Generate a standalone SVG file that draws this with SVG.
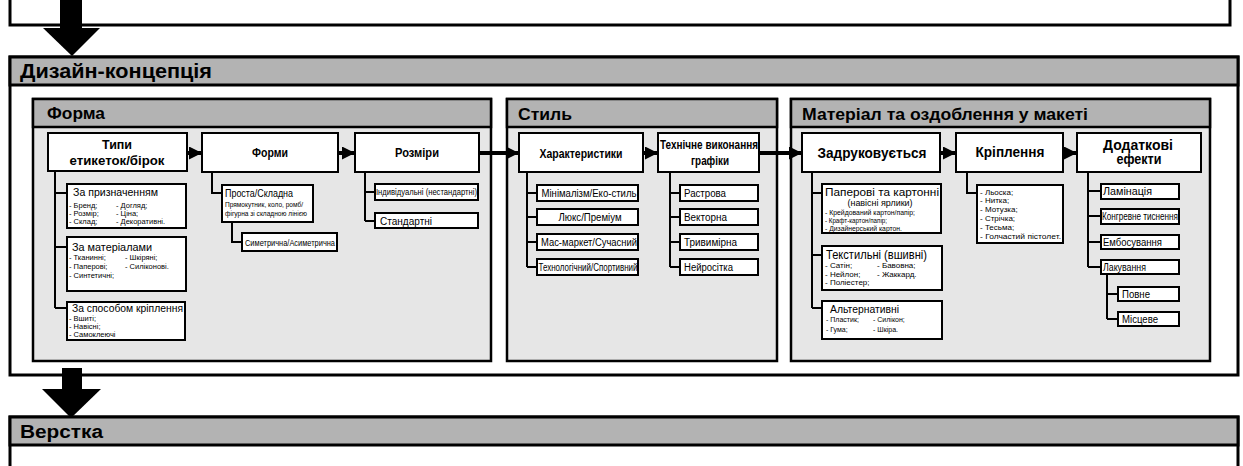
<svg xmlns="http://www.w3.org/2000/svg" width="1243" height="466" viewBox="0 0 1243 466">
<style>
.bg{fill:#fff}
.outer{fill:#fff;stroke:#000;stroke-width:3}
.ohdr{fill:#b3b3b3;stroke:#000;stroke-width:3}
.panel{fill:#e6e6e6;stroke:#000;stroke-width:2.5}
.phdr{fill:#b3b3b3;stroke:#000;stroke-width:2.5}
.node{fill:#fff;stroke:#000;stroke-width:2}
.ln{fill:none;stroke:#000;stroke-width:2}
.flow{fill:none;stroke:#000;stroke-width:4}
text{font-family:"Liberation Sans",Arial,sans-serif;fill:#000}
.t1{font-size:20px;font-weight:bold}
.t2{font-size:17px;font-weight:bold}
.nb{font-size:13px;font-weight:bold;text-anchor:middle}
.st{font-size:11px}
.li{font-size:7.5px}
.it{font-size:10px}
.c{text-anchor:middle}
</style>
<defs>
<marker id="ah" markerUnits="userSpaceOnUse" markerWidth="13" markerHeight="13" refX="13" refY="6.5" orient="auto">
<path d="M0,0 L13,6.5 L0,13 z" fill="#000"/>
</marker>
</defs>
<rect class="bg" x="0" y="0" width="1243" height="466"/>

<g id="prev-stage">
<path class="ln" style="stroke-width:3" d="M10,0 V25 H1230 V0"/>
</g>
<g id="big-arrow-1">
<rect x="60" y="0" width="22" height="29" fill="#000"/>
<polygon points="43,28 100,28 72,56" fill="#000"/>
</g>

<g id="design-concept">
<rect class="outer" x="10" y="57" width="1228" height="318"/>
<rect class="ohdr" x="10" y="57" width="1228" height="28"/>
<text class="t1" x="20" y="78" textLength="192" lengthAdjust="spacingAndGlyphs">Дизайн-концепція</text>
</g>

<g id="panel-forma">
<rect class="panel" x="33" y="99" width="458" height="262"/>
<rect class="phdr" x="33" y="99" width="458" height="28"/>
<text class="t2" x="47" y="119" textLength="58" lengthAdjust="spacingAndGlyphs">Форма</text>
</g>
<g id="panel-style">
<rect class="panel" x="507" y="99" width="270" height="262"/>
<rect class="phdr" x="507" y="99" width="270" height="28"/>
<text class="t2" x="518" y="120" textLength="54" lengthAdjust="spacingAndGlyphs">Стиль</text>
</g>
<g id="panel-material">
<rect class="panel" x="791" y="99" width="419" height="262"/>
<rect class="phdr" x="791" y="99" width="419" height="28"/>
<text class="t2" x="802" y="120" textLength="286" lengthAdjust="spacingAndGlyphs">Матеріал та оздоблення у макеті</text>
</g>

<g id="connectors">
<line class="flow" x1="187" y1="153" x2="202" y2="153" marker-end="url(#ah)"/>
<line class="flow" x1="338" y1="153" x2="355" y2="153" marker-end="url(#ah)"/>
<line class="flow" x1="479" y1="153" x2="519" y2="153" marker-end="url(#ah)"/>
<line class="flow" x1="643" y1="153" x2="658" y2="153" marker-end="url(#ah)"/>
<line class="flow" x1="759" y1="153" x2="802" y2="153" marker-end="url(#ah)"/>
<line class="flow" x1="940" y1="153" x2="956" y2="153" marker-end="url(#ah)"/>
<line class="flow" x1="1063" y1="153" x2="1077" y2="153" marker-end="url(#ah)"/>
<path class="ln" d="M55,171 V308 M55,193 H67 M55,247 H67 M55,308 H67"/>
<path class="ln" d="M212,172 V193 H222 M232,222 V242 H242"/>
<path class="ln" d="M365,172 V221 M365,192 H375 M365,221 H375"/>
<path class="ln" d="M527,172 V267 M527,193 H537 M527,217 H537 M527,242 H537 M527,267 H537"/>
<path class="ln" d="M670,172 V267 M670,193 H680 M670,217 H680 M670,242 H680 M670,267 H680"/>
<path class="ln" d="M812,172 V308 M812,193 H822 M812,255 H822 M812,308 H822"/>
<path class="ln" d="M967,172 V193 H977"/>
<path class="ln" d="M1088,172 V267 M1088,191 H1101 M1088,216 H1101 M1088,242 H1101 M1088,267 H1101"/>
<path class="ln" d="M1107,274 V319 M1107,294 H1118 M1107,319 H1118"/>
</g>

<g id="n-typy">
<rect class="node" x="48" y="133" width="139" height="38"/>
<text class="nb" x="117" y="149" textLength="30" lengthAdjust="spacingAndGlyphs">Типи</text>
<text class="nb" x="117" y="165" textLength="95" lengthAdjust="spacingAndGlyphs">етикеток/бірок</text>
</g>
<g id="n-pryznach">
<rect class="node" x="67" y="184" width="119" height="44"/>
<text class="st" x="73" y="196" textLength="85" lengthAdjust="spacingAndGlyphs">За призначенням</text>
<text class="li" x="69" y="208">- Бренд;</text>
<text class="li" x="69" y="216">- Розмір;</text>
<text class="li" x="69" y="224">- Склад;</text>
<text class="li" x="116" y="208">- Догляд;</text>
<text class="li" x="116" y="216">- Ціна;</text>
<text class="li" x="116" y="224">- Декоративні.</text>
</g>
<g id="n-material">
<rect class="node" x="67" y="237" width="119" height="54"/>
<text class="st" x="72" y="251" textLength="80" lengthAdjust="spacingAndGlyphs">За матеріалами</text>
<text class="li" x="69" y="260">- Тканинні;</text>
<text class="li" x="69" y="269">- Паперові;</text>
<text class="li" x="69" y="278">- Синтетичні;</text>
<text class="li" x="125" y="260">- Шкіряні;</text>
<text class="li" x="125" y="269">- Силіконові.</text>
</g>
<g id="n-sposib">
<rect class="node" x="67" y="302" width="118" height="38"/>
<text class="st" x="72" y="312" textLength="111" lengthAdjust="spacingAndGlyphs">За способом кріплення</text>
<text class="li" x="69" y="321">- Вшиті;</text>
<text class="li" x="69" y="329">- Навісні;</text>
<text class="li" x="69" y="337">- Самоклеючі</text>
</g>

<g id="n-formy">
<rect class="node" x="202" y="133" width="136" height="39"/>
<text class="nb" x="270" y="157" textLength="36" lengthAdjust="spacingAndGlyphs">Форми</text>
</g>
<g id="n-prosta">
<rect class="node" x="222" y="185" width="91" height="37"/>
<text x="225" y="197" font-size="10.5" textLength="68" lengthAdjust="spacingAndGlyphs">Проста/Складна</text>
<text x="225" y="207" font-size="7" textLength="78" lengthAdjust="spacingAndGlyphs">Прямокутник, коло, ромб/</text>
<text x="225" y="216" font-size="7" textLength="82" lengthAdjust="spacingAndGlyphs">фігурна зі складною лінією</text>
</g>
<g id="n-symetr">
<rect class="node" x="242" y="233" width="95" height="18"/>
<text x="245" y="246" font-size="9" textLength="90" lengthAdjust="spacingAndGlyphs">Симетрична/Асиметрична</text>
</g>

<g id="n-rozmiry">
<rect class="node" x="355" y="133" width="124" height="39"/>
<text class="nb" x="417" y="157" textLength="44" lengthAdjust="spacingAndGlyphs">Розміри</text>
</g>
<g id="n-indyv">
<rect class="node" x="375" y="184" width="103" height="16"/>
<text x="376" y="195" font-size="9" textLength="101" lengthAdjust="spacingAndGlyphs">Індивідуальні (нестандартні)</text>
</g>
<g id="n-standart">
<rect class="node" x="375" y="213" width="103" height="15"/>
<text x="380" y="225" font-size="10.5" textLength="52" lengthAdjust="spacingAndGlyphs">Стандартні</text>
</g>

<g id="n-kharakt">
<rect class="node" x="519" y="133" width="124" height="39"/>
<text class="nb" x="581" y="158" textLength="83" lengthAdjust="spacingAndGlyphs">Характеристики</text>
</g>
<g id="n-minim">
<rect class="node" x="537" y="185" width="101" height="16"/>
<text class="it c" x="589" y="197" textLength="95" lengthAdjust="spacingAndGlyphs">Мінімалізм/Еко-стиль</text>
</g>
<g id="n-lux">
<rect class="node" x="537" y="209" width="101" height="16"/>
<text class="it c" x="590" y="221" textLength="63" lengthAdjust="spacingAndGlyphs">Люкс/Преміум</text>
</g>
<g id="n-mass">
<rect class="node" x="537" y="234" width="101" height="16"/>
<text class="it c" x="589" y="246" textLength="96" lengthAdjust="spacingAndGlyphs">Мас-маркет/Сучасний</text>
</g>
<g id="n-tech-sport">
<rect class="node" x="537" y="259" width="101" height="16"/>
<text class="it c" x="588" y="271" textLength="99" lengthAdjust="spacingAndGlyphs">Технологічний/Спортивний</text>
</g>

<g id="n-tekhnichne">
<rect class="node" x="658" y="133" width="101" height="39"/>
<text class="nb" x="709" y="149" textLength="98" lengthAdjust="spacingAndGlyphs">Технічне виконання</text>
<text class="nb" x="710" y="165" textLength="38" lengthAdjust="spacingAndGlyphs">графіки</text>
</g>
<g id="n-rastr">
<rect class="node" x="680" y="185" width="78" height="16"/>
<text class="it" x="684" y="197" textLength="42" lengthAdjust="spacingAndGlyphs">Растрова</text>
</g>
<g id="n-vector">
<rect class="node" x="680" y="209" width="78" height="16"/>
<text class="it" x="684" y="221" textLength="43" lengthAdjust="spacingAndGlyphs">Векторна</text>
</g>
<g id="n-3d">
<rect class="node" x="680" y="234" width="78" height="16"/>
<text class="it" x="684" y="246" textLength="53" lengthAdjust="spacingAndGlyphs">Тривимірна</text>
</g>
<g id="n-neuro">
<rect class="node" x="680" y="259" width="78" height="16"/>
<text class="it" x="684" y="271" textLength="49" lengthAdjust="spacingAndGlyphs">Нейросітка</text>
</g>

<g id="n-zadruk">
<rect class="node" x="802" y="133" width="138" height="39"/>
<text class="nb" x="872" y="158" textLength="109" lengthAdjust="spacingAndGlyphs" style="font-size:14px">Задруковується</text>
</g>
<g id="n-paper">
<rect class="node" x="822" y="184" width="119" height="49"/>
<text class="c" x="882" y="195.5" font-size="11.5" textLength="114" lengthAdjust="spacingAndGlyphs">Паперові та картонні</text>
<text class="c" x="880" y="206" font-size="9.5" textLength="65" lengthAdjust="spacingAndGlyphs">(навісні ярлики)</text>
<text class="li" x="825" y="215" textLength="90" lengthAdjust="spacingAndGlyphs">- Крейдований картон/папір;</text>
<text class="li" x="825" y="223" textLength="62" lengthAdjust="spacingAndGlyphs">- Крафт-картон/папір;</text>
<text class="li" x="825" y="231" textLength="77" lengthAdjust="spacingAndGlyphs">- Дизайнерський картон.</text>
</g>
<g id="n-textile">
<rect class="node" x="822" y="246" width="120" height="44"/>
<text x="826" y="259" font-size="12" textLength="101" lengthAdjust="spacingAndGlyphs">Текстильні (вшивні)</text>
<text x="825" y="268" font-size="8">- Сатін;</text>
<text x="825" y="277" font-size="8">- Нейлон;</text>
<text x="825" y="285" font-size="8">- Поліестер;</text>
<text x="877" y="268" font-size="8">- Бавовна;</text>
<text x="877" y="277" font-size="8">- Жаккард.</text>
</g>
<g id="n-altern">
<rect class="node" x="822" y="301" width="120" height="38"/>
<text x="830" y="313" font-size="11" textLength="69" lengthAdjust="spacingAndGlyphs">Альтернативні</text>
<text x="826" y="322" font-size="7">- Пластик;</text>
<text x="826" y="332" font-size="7">- Гума;</text>
<text x="873" y="322" font-size="7">- Силікон;</text>
<text x="873" y="332" font-size="7">- Шкіра.</text>
</g>

<g id="n-kriplennia">
<rect class="node" x="956" y="133" width="107" height="39"/>
<text class="nb" x="1010" y="157" textLength="69" lengthAdjust="spacingAndGlyphs" style="font-size:14px">Кріплення</text>
</g>
<g id="n-kripl-list">
<rect class="node" x="977" y="185" width="86" height="58"/>
<text x="980" y="195" font-size="8">- Льоска;</text>
<text x="980" y="203" font-size="8">- Нитка;</text>
<text x="980" y="212" font-size="8">- Мотузка;</text>
<text x="980" y="221" font-size="8">- Стрічка;</text>
<text x="980" y="230" font-size="8">- Тесьма;</text>
<text x="980" y="239" font-size="8" textLength="81" lengthAdjust="spacingAndGlyphs">- Голчастий пістолет.</text>
</g>

<g id="n-dodatkovi">
<rect class="node" x="1077" y="133" width="124" height="39"/>
<text class="nb" x="1138" y="150" textLength="70" lengthAdjust="spacingAndGlyphs" style="font-size:14px">Додаткові</text>
<text class="nb" x="1139" y="164" textLength="45" lengthAdjust="spacingAndGlyphs" style="font-size:14px">ефекти</text>
</g>
<g id="n-lamin">
<rect class="node" x="1101" y="184" width="78" height="15"/>
<text class="it" x="1103" y="195" textLength="49" lengthAdjust="spacingAndGlyphs">Ламінація</text>
</g>
<g id="n-kongrev">
<rect class="node" x="1101" y="209" width="78" height="15"/>
<text class="it" x="1102" y="220" textLength="76" lengthAdjust="spacingAndGlyphs">Конгревне тиснення</text>
</g>
<g id="n-embos">
<rect class="node" x="1101" y="235" width="78" height="14"/>
<text class="it" x="1103" y="246" textLength="59" lengthAdjust="spacingAndGlyphs">Ембосування</text>
</g>
<g id="n-lakuv">
<rect class="node" x="1101" y="260" width="78" height="14"/>
<text class="it" x="1103" y="271" textLength="43" lengthAdjust="spacingAndGlyphs">Лакування</text>
</g>
<g id="n-povne">
<rect class="node" x="1118" y="287" width="61" height="14"/>
<text class="it" x="1122" y="298" textLength="28" lengthAdjust="spacingAndGlyphs">Повне</text>
</g>
<g id="n-mistseve">
<rect class="node" x="1118" y="312" width="61" height="14"/>
<text class="it" x="1122" y="323" textLength="36" lengthAdjust="spacingAndGlyphs">Місцеве</text>
</g>

<g id="big-arrow-2">
<rect x="62" y="368" width="20" height="22" fill="#000"/>
<polygon points="42,389 101,389 71,418" fill="#000"/>
</g>

<g id="verstka">
<path class="outer" d="M10,466 V417 H1238 V466"/>
<rect class="ohdr" x="10" y="417" width="1228" height="28"/>
<text x="20" y="438" font-size="18" font-weight="bold" textLength="83" lengthAdjust="spacingAndGlyphs">Верстка</text>
</g>
</svg>
